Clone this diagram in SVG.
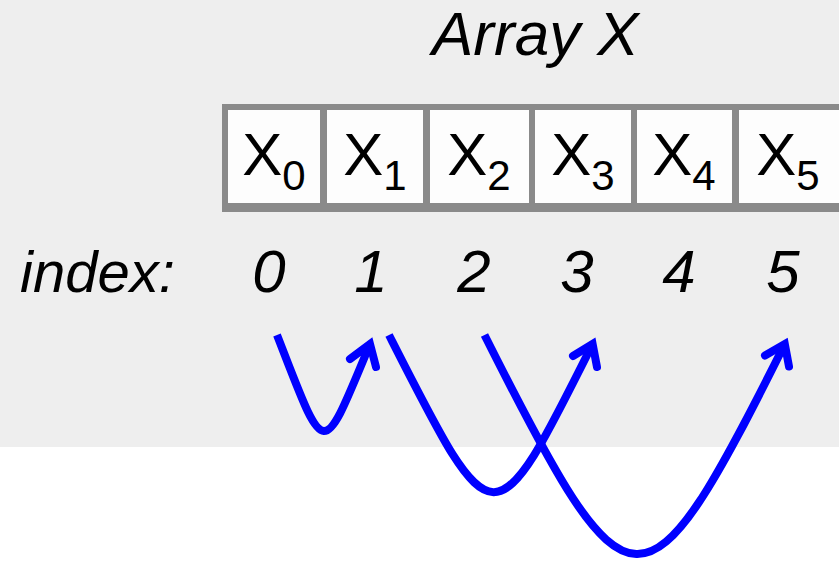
<svg xmlns="http://www.w3.org/2000/svg" width="839" height="562" viewBox="0 0 839 562">
  <style>
    .lbl { font-family: "Liberation Sans", Arial, Helvetica, sans-serif; fill: #000; }
    .it { font-style: italic; }
    .cell { fill: #fdfdfd; }
    .x { font-size: 60px; }
    .sub { font-size: 42px; }
    .num { font-size: 60px; font-style: italic; }
    .shaft { fill: none; stroke: #0000ff; stroke-width: 8; stroke-linecap: butt; }
    .head { fill: none; stroke: #0000ff; stroke-width: 8; stroke-linecap: round; stroke-linejoin: miter; stroke-miterlimit: 10; }
  </style>
  <rect x="0" y="0" width="839" height="447" fill="#eeeeee"/>
  <text class="lbl it" x="432" y="55" font-size="62">Array X</text>

  <g id="array">
    <rect x="222" y="104" width="630" height="108" fill="#8a8a8a"/>
    <g id="cell0"><rect class="cell" x="228" y="110" width="92" height="93"/>
      <text class="lbl x" x="274" y="175" text-anchor="middle">X<tspan class="sub" dy="15">0</tspan></text></g>
    <g id="cell1"><rect class="cell" x="327" y="110" width="96" height="93"/>
      <text class="lbl x" x="375" y="175" text-anchor="middle">X<tspan class="sub" dy="15">1</tspan></text></g>
    <g id="cell2"><rect class="cell" x="430" y="110" width="99" height="93"/>
      <text class="lbl x" x="479" y="175" text-anchor="middle">X<tspan class="sub" dy="15">2</tspan></text></g>
    <g id="cell3"><rect class="cell" x="535" y="110" width="96" height="93"/>
      <text class="lbl x" x="583" y="175" text-anchor="middle">X<tspan class="sub" dy="15">3</tspan></text></g>
    <g id="cell4"><rect class="cell" x="637" y="110" width="95" height="93"/>
      <text class="lbl x" x="684" y="175" text-anchor="middle">X<tspan class="sub" dy="15">4</tspan></text></g>
    <g id="cell5"><rect class="cell" x="739" y="110" width="110" height="93"/>
      <text class="lbl x" x="788" y="175" text-anchor="middle">X<tspan class="sub" dy="15">5</tspan></text></g>
  </g>

  <g id="indices">
    <text class="lbl it" x="20" y="292" font-size="58">index:</text>
    <text class="lbl num" x="269" y="292" text-anchor="middle">0</text>
    <text class="lbl num" x="371" y="292" text-anchor="middle">1</text>
    <text class="lbl num" x="474" y="292" text-anchor="middle">2</text>
    <text class="lbl num" x="577" y="292" text-anchor="middle">3</text>
    <text class="lbl num" x="679" y="292" text-anchor="middle">4</text>
    <text class="lbl num" x="783" y="292" text-anchor="middle">5</text>
  </g>

  <g id="connectors">
    <path class="shaft" d="M277,335 C326,461 321,462 370,344"/>
    <polyline class="head" points="350,359 370,344 376,367"/>
    <path class="shaft" d="M389,335 C494,542 493,544 592.6,344"/>
    <polyline class="head" points="573,356 592.6,344 597,367"/>
    <path class="shaft" d="M484.5,335 C630,625 644,626 784.8,344"/>
    <polyline class="head" points="765,355.5 784.8,344 789,366.5"/>
  </g>
</svg>
